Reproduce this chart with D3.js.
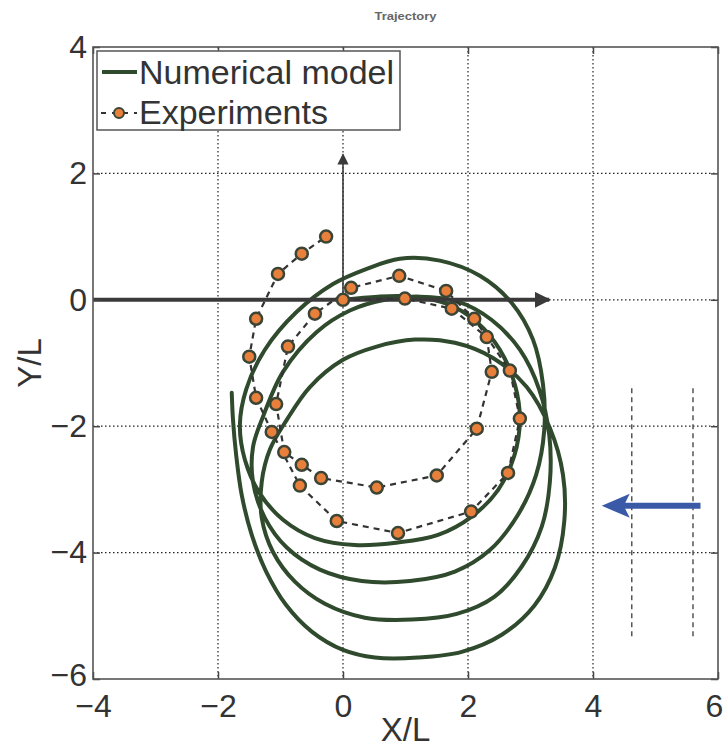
<!DOCTYPE html>
<html>
<head>
<meta charset="utf-8">
<script src="https://cdn.jsdelivr.net/npm/d3@7"></script>
<style>
  body { margin: 0; background: #fff; }
  text { font-family: "Liberation Sans", Arial, Helvetica, sans-serif; }
</style>
</head>
<body>
<svg id="chart" width="726" height="750"></svg>
<script>
// Axis ticks
const xTicks = [-4, -2, 0, 2, 4, 6];
const yTicks = [-6, -4, -2, 0, 2, 4];

// Numerical model trajectory (X/L, Y/L), starting at the origin
const modelX = [0.00, 0.56, 1.10, 1.66, 2.14, 2.51, 2.75, 2.83, 2.74, 2.48, 2.06, 1.52, 0.88, 0.19, -0.45, -0.96,
  -1.34, -1.57, -1.65, -1.55, -1.25, -0.74, -0.16, 0.38, 0.91,
  1.55, 2.19, 2.70, 3.04, 3.20, 3.22, 3.09, 2.80, 2.35, 1.79, 1.07, 0.30, -0.37, -0.90, -1.25, -1.44,
  -1.44, -1.28, -0.96, -0.42, 0.11, 0.67, 1.23,
  1.84, 2.38, 2.83, 3.14, 3.30, 3.31, 3.18, 2.86, 2.42, 1.82, 1.10, 0.35, -0.29, -0.77, -1.12, -1.30,
  -1.30, -1.17, -0.90, -0.53, 0.00, 0.54, 1.15,
  1.79, 2.40, 2.94, 3.31, 3.52, 3.54, 3.39, 3.06, 2.54, 1.90, 1.20, 0.51, 0.00, -0.50, -0.91, -1.23,
  -1.46, -1.62, -1.71, -1.76, -1.78];
const modelY = [0.00, 0.05, 0.05, -0.06, -0.35, -0.79, -1.34, -1.90, -2.47, -3.01, -3.43, -3.72, -3.84, -3.88, -3.77, -3.48,
  -3.05, -2.53, -1.98, -1.42, -0.79, -0.19, 0.25, 0.49, 0.65,
  0.62, 0.38, -0.05, -0.63, -1.34, -2.06, -2.77, -3.40, -3.96, -4.30, -4.45, -4.45, -4.27, -3.92, -3.45, -2.88,
  -2.33, -1.85, -1.14, -0.51, -0.17, 0.00, 0.05,
  -0.03, -0.32, -0.79, -1.42, -2.14, -2.88, -3.59, -4.22, -4.70, -4.97, -5.06, -5.03, -4.81, -4.46, -3.99, -3.45,
  -2.88, -2.37, -1.90, -1.38, -0.95, -0.74, -0.63,
  -0.68, -0.92, -1.38, -2.03, -2.77, -3.51, -4.24, -4.84, -5.30, -5.57, -5.66, -5.66, -5.54, -5.25, -4.83, -4.30,
  -3.72, -3.09, -2.45, -1.90, -1.47];

// Experimental trajectory (X/L, Y/L)
const expX = [0.00, 0.99, 1.74, 2.30, 2.38, 2.14, 1.50, 0.54, -0.35, -0.66, -0.94, -1.07, -0.88, -0.45, 0.13, 0.90,
  1.65, 2.10, 2.67, 2.83, 2.64, 2.05, 0.88, -0.10, -0.69, -1.14, -1.39, -1.50, -1.39, -1.04, -0.66, -0.27];
const expY = [0.00, 0.02, -0.14, -0.59, -1.14, -2.04, -2.78, -2.97, -2.82, -2.61, -2.41, -1.65, -0.74, -0.22, 0.19, 0.38,
  0.14, -0.30, -1.12, -1.88, -2.74, -3.35, -3.69, -3.50, -2.94, -2.09, -1.55, -0.90, -0.30, 0.41, 0.73, 1.00];

// Reference axes drawn from the origin
const axisArrowX = [-4, 3.3];
const axisArrowY = [0, 2.3];

// Incoming current arrow and wave-gauge lines
const currentX = [5.72, 4.14];
const currentY = -3.26;
const gaugeX = [4.62, 5.6];
const gaugeY = [-1.4, -5.33];

(function draw() {
  const svg = d3.select("#chart");
  const pL = 93, pR = 718, pT = 47, pB = 679;
  const x = d3.scaleLinear().domain([-4, 6]).range([pL, pR]);
  const y = d3.scaleLinear().domain([-6, 4]).range([pB, pT]);
  const fmt = d => d < 0 ? "\u2212" + Math.abs(d) : String(d);

  // Title
  svg.append("text").attr("x", (pL + pR) / 2).attr("y", 20)
    .attr("text-anchor", "middle").attr("font-size", 10).attr("font-weight", "bold")
    .attr("fill", "#666").attr("textLength", 62).attr("lengthAdjust", "spacingAndGlyphs")
    .text("Trajectory");

  // Dotted grid
  const grid = svg.append("g").attr("stroke", "#222").attr("stroke-width", 1.2).attr("stroke-dasharray", "1.5,2.5");
  grid.selectAll(".gx").data(xTicks.slice(1, -1)).join("line").attr("class", "gx")
    .attr("x1", d => x(d)).attr("x2", d => x(d)).attr("y1", pT).attr("y2", pB);
  grid.selectAll(".gy").data(yTicks.slice(1, -1)).join("line").attr("class", "gy")
    .attr("y1", d => y(d)).attr("y2", d => y(d)).attr("x1", pL).attr("x2", pR);

  // Gauge lines
  svg.append("g").selectAll("line").data(gaugeX).join("line")
    .attr("x1", d => x(d)).attr("x2", d => x(d))
    .attr("y1", y(gaugeY[0])).attr("y2", y(gaugeY[1]))
    .attr("stroke", "#555").attr("stroke-width", 1.5).attr("stroke-dasharray", "5,4");

  // Model trajectory
  const line = d3.line().x(d => x(d[0])).y(d => y(d[1])).curve(d3.curveCatmullRom.alpha(0.5));
  svg.append("path").datum(d3.zip(modelX, modelY)).attr("d", line)
    .attr("fill", "none").attr("stroke", "#2f4a2c").attr("stroke-width", 4).attr("stroke-linecap", "round");

  // Reference axes arrows
  const defs = svg.append("defs");
  defs.append("marker").attr("id", "head").attr("viewBox", "0 0 10 10").attr("refX", 9).attr("refY", 5)
    .attr("markerWidth", 4).attr("markerHeight", 4).attr("orient", "auto")
    .append("path").attr("d", "M0,0 L10,5 L0,10 Z").attr("fill", "#3a3a3a");
  defs.append("marker").attr("id", "headThin").attr("viewBox", "0 0 10 10").attr("refX", 9).attr("refY", 5)
    .attr("markerWidth", 7).attr("markerHeight", 7).attr("orient", "auto")
    .append("path").attr("d", "M0,0 L10,5 L0,10 Z").attr("fill", "#3a3a3a");
  svg.append("line").attr("x1", x(axisArrowX[0])).attr("x2", x(axisArrowX[1]))
    .attr("y1", y(0)).attr("y2", y(0)).attr("stroke", "#3a3a3a").attr("stroke-width", 4)
    .attr("marker-end", "url(#head)");
  svg.append("line").attr("x1", x(0)).attr("x2", x(0))
    .attr("y1", y(axisArrowY[0])).attr("y2", y(axisArrowY[1])).attr("stroke", "#3a3a3a").attr("stroke-width", 1.6)
    .attr("marker-end", "url(#headThin)");

  // Experiments
  const expPts = d3.zip(expX, expY);
  svg.append("path").datum(expPts).attr("d", d3.line().x(d => x(d[0])).y(d => y(d[1])))
    .attr("fill", "none").attr("stroke", "#333").attr("stroke-width", 2.2).attr("stroke-dasharray", "6,5");
  svg.append("g").selectAll("circle").data(expPts).join("circle")
    .attr("cx", d => x(d[0])).attr("cy", d => y(d[1])).attr("r", 6)
    .attr("fill", "#e8803c").attr("stroke", "#3b4535").attr("stroke-width", 2.5);

  // Current arrow
  const cy = y(currentY);
  const tip = x(currentX[1]);
  svg.append("line").attr("x1", x(currentX[0])).attr("x2", tip + 20)
    .attr("y1", cy).attr("y2", cy).attr("stroke", "#3a5aa8").attr("stroke-width", 6);
  svg.append("path")
    .attr("d", `M${tip},${cy} L${tip + 28},${cy - 12} L${tip + 22},${cy} L${tip + 28},${cy + 12} Z`)
    .attr("fill", "#3a5aa8");

  // Axes box and ticks
  const tickLen = 7;
  const ax = svg.append("g").attr("color", "#444");
  ax.append("g").attr("transform", `translate(0,${pB})`)
    .call(d3.axisBottom(x).tickValues(xTicks).tickFormat(fmt).tickSizeInner(-tickLen).tickSizeOuter(0).tickPadding(15))
    .call(g => g.selectAll("text").attr("font-size", 32).attr("fill", "#333")
      .attr("dx", d => d === xTicks[xTicks.length - 1] ? -4 : 0));
  ax.append("g").attr("transform", `translate(${pL},0)`)
    .call(d3.axisLeft(y).tickValues(yTicks).tickFormat(fmt).tickSizeInner(-tickLen).tickSizeOuter(0).tickPadding(6))
    .call(g => g.selectAll("text").attr("font-size", 32).attr("fill", "#333")
      .attr("dy", d => d === yTicks[0] ? "0.2em" : "0.32em"));
  ax.append("g").attr("transform", `translate(0,${pT})`)
    .call(d3.axisTop(x).tickValues(xTicks).tickFormat("").tickSizeInner(-tickLen).tickSizeOuter(0));
  ax.append("g").attr("transform", `translate(${pR},0)`)
    .call(d3.axisRight(y).tickValues(yTicks).tickFormat("").tickSizeInner(-tickLen).tickSizeOuter(0));
  ax.selectAll(".domain").remove();
  ax.selectAll(".tick line").attr("stroke-width", 1.5);
  svg.append("rect").attr("x", pL).attr("y", pT).attr("width", pR - pL).attr("height", pB - pT)
    .attr("fill", "none").attr("stroke", "#555").attr("stroke-width", 1.6);

  // Axis labels
  svg.append("text").attr("x", (pL + pR) / 2).attr("y", 741).attr("text-anchor", "middle")
    .attr("font-size", 33).attr("fill", "#333").text("X/L");
  svg.append("text").attr("transform", `translate(41,${(pT + pB) / 2}) rotate(-90)`).attr("text-anchor", "middle")
    .attr("font-size", 33).attr("fill", "#333").text("Y/L");

  // Legend
  const lg = svg.append("g");
  lg.append("rect").attr("x", 97).attr("y", 51).attr("width", 303).attr("height", 79)
    .attr("fill", "#fff").attr("stroke", "#555").attr("stroke-width", 1.5);
  lg.append("line").attr("x1", 102).attr("x2", 137).attr("y1", 72).attr("y2", 72)
    .attr("stroke", "#2f4a2c").attr("stroke-width", 4);
  lg.append("text").attr("x", 139).attr("y", 84).attr("font-size", 34).attr("fill", "#333").text("Numerical model");
  lg.append("line").attr("x1", 101).attr("x2", 137).attr("y1", 113).attr("y2", 113)
    .attr("stroke", "#333").attr("stroke-width", 2.2).attr("stroke-dasharray", "5,6");
  lg.append("circle").attr("cx", 119).attr("cy", 113).attr("r", 5)
    .attr("fill", "#e8803c").attr("stroke", "#3b4535").attr("stroke-width", 2);
  lg.append("text").attr("x", 139).attr("y", 124).attr("font-size", 34).attr("fill", "#333").text("Experiments");
})();
</script>
</body>
</html>
